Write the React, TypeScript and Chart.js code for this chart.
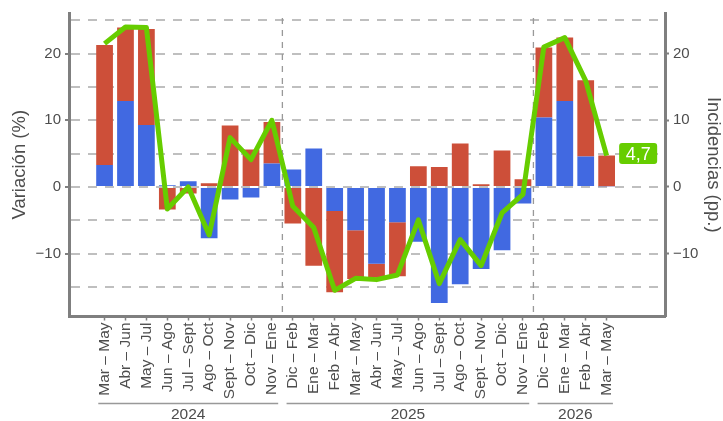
import React, { useEffect, useRef } from 'react';
import { Chart, registerables } from 'chart.js';

Chart.register(...registerables);

// ---- data ----
const periodLabels: string[] = [
  'Mar – May', 'Abr – Jun', 'May – Jul', 'Jun – Ago', 'Jul – Sept', 'Ago – Oct', 'Sept – Nov', 'Oct – Dic', 'Nov – Ene',
  'Dic – Feb', 'Ene – Mar', 'Feb – Abr', 'Mar – May', 'Abr – Jun', 'May – Jul', 'Jun – Ago', 'Jul – Sept', 'Ago – Oct', 'Sept – Nov', 'Oct – Dic', 'Nov – Ene',
  'Dic – Feb', 'Ene – Mar', 'Feb – Abr', 'Mar – May',
];
const blueValues: number[] = [
  3.3, 12.9, 9.3, 0.25, 0.85, -7.7, -1.9, -1.6, 3.5,
  2.6, 5.75, -3.6, -6.5, -11.5, -5.3, -8.2, -17.4, -14.6, -12.3, -9.5, -2.5,
  10.4, 12.9, 4.55, 0.1,
];
const redValues: number[] = [
  18.0, 11.0, 14.4, -3.4, -1.0, 0.55, 9.2, 5.6, 6.25,
  -5.5, -11.8, -12.2, -7.3, -2.1, -8.1, 3.1, 3.0, 6.5, 0.4, 5.45, 1.15,
  10.5, 9.5, 11.45, 4.6,
];
const totalValues: number[] = [
  21.5, 24.0, 23.9, -3.3, 0.0, -7.2, 7.4, 4.1, 10.0,
  -2.9, -6.1, -15.5, -13.7, -13.9, -13.2, -4.95, -14.5, -7.9, -11.8, -3.9, -1.1,
  21.0, 22.4, 15.9, 4.7,
];
const yearLabels: string[] = ['2024', '2025', '2026'];
const yearStart: number[] = [0, 9, 21];
const yearEnd: number[] = [8, 20, 24];
const yGridValues: number[] = [-15, -10, -5, 0, 5, 10, 15, 20, 25];
const yLabelValues: number[] = [-10, 0, 10, 20];

// ---- styles ----
const FONT = "'Liberation Sans', Arial, sans-serif";
const TEXT = '#4D4D4D';
const AXIS = '#7F7F7F';
const GRID = '#BFBFBF';
const BLUE = '#4169E1';
const RED = '#CD4F39';
const GREEN = '#66CD00';
const Y_MIN = -19.43;
const Y_MAX = 26.09;

const fmtY = (v: number) => (v < 0 ? '\u2212' + Math.abs(v) : String(v));

const decorPlugin = {
  id: 'decor',
  beforeDatasetsDraw(chart: any) {
    const { ctx, chartArea, scales } = chart;
    const x = scales.x;
    ctx.save();
    ctx.strokeStyle = '#999999';
    ctx.lineWidth = 1.3;
    ctx.setLineDash([6, 6]);
    for (let i = 1; i < yearStart.length; i++) {
      const px = x.getPixelForValue(yearStart[i] - 0.5);
      ctx.beginPath();
      ctx.moveTo(px, chartArea.top + 5);
      ctx.lineTo(px, chartArea.bottom);
      ctx.stroke();
    }
    ctx.restore();
  },
  afterDraw(chart: any) {
    const { ctx, chartArea, scales } = chart;
    const x = scales.x;
    ctx.save();
    // year groups
    const lineY = chartArea.bottom + 87;
    ctx.strokeStyle = '#999999';
    ctx.lineWidth = 1.5;
    ctx.fillStyle = TEXT;
    ctx.font = `15.5px ${FONT}`;
    ctx.textAlign = 'center';
    ctx.textBaseline = 'middle';
    for (let i = 0; i < yearLabels.length; i++) {
      const x1 = x.getPixelForValue(yearStart[i] - 0.3);
      const x2 = x.getPixelForValue(yearEnd[i] + 0.3);
      ctx.beginPath();
      ctx.moveTo(x1, lineY);
      ctx.lineTo(x2, lineY);
      ctx.stroke();
      ctx.fillText(yearLabels[i], (x1 + x2) / 2, lineY + 11.5);
    }
    // last value label
    const meta = chart.getDatasetMeta(2);
    const pt = meta.data[meta.data.length - 1];
    if (pt) {
      const txt = totalValues[totalValues.length - 1].toFixed(1).replace('.', ',');
      ctx.font = `18px ${FONT}`;
      const w = ctx.measureText(txt).width + 13;
      const h = 21;
      const bx = pt.x + 12.5;
      const by = pt.y - 2 - h / 2;
      ctx.fillStyle = GREEN;
      ctx.beginPath();
      if ((ctx as any).roundRect) (ctx as any).roundRect(bx, by, w, h, 3);
      else ctx.rect(bx, by, w, h);
      ctx.fill();
      ctx.fillStyle = '#FFFFFF';
      ctx.textAlign = 'center';
      ctx.textBaseline = 'middle';
      ctx.fillText(txt, bx + w / 2, by + h / 2 + 1);
    }
    ctx.restore();
  },
};

export default function App() {
  const ref = useRef<HTMLCanvasElement | null>(null);

  useEffect(() => {
    if (!ref.current) return;
    Chart.defaults.font.family = FONT;
    const tickColor = (c: any) => (c.tick && yLabelValues.includes(c.tick.value) ? AXIS : 'rgba(0,0,0,0)');
    const yTicks = {
      color: TEXT,
      padding: 4,
      autoSkip: false,
      font: { size: 15, family: FONT },
      callback: (v: any) => (yLabelValues.includes(Number(v)) ? fmtY(Number(v)) : ''),
    };
    const chart = new Chart(ref.current, {
      type: 'bar',
      data: {
        datasets: [
          {
            type: 'bar',
            label: 'blue',
            data: blueValues.map((v, i) => ({ x: i, y: v })),
            backgroundColor: BLUE,
            borderWidth: 0,
            stack: 'bars',
            order: 1,
            barPercentage: 1,
            categoryPercentage: 0.8,
          },
          {
            type: 'bar',
            label: 'red',
            data: redValues.map((v, i) => ({ x: i, y: v })),
            backgroundColor: RED,
            borderWidth: 0,
            stack: 'bars',
            order: 1,
            barPercentage: 1,
            categoryPercentage: 0.8,
          },
          {
            type: 'line',
            label: 'total',
            data: totalValues.map((v, i) => ({ x: i, y: v })),
            borderColor: GREEN,
            backgroundColor: GREEN,
            borderWidth: 5,
            pointRadius: 0,
            tension: 0,
            borderJoinStyle: 'round',
            stack: 'total',
            order: 0,
          } as any,
        ],
      },
      options: {
        responsive: false,
        animation: false,
        devicePixelRatio: 1,
        layout: { padding: { top: 10, left: 0, right: 0, bottom: 0 } },
        plugins: { legend: { display: false }, tooltip: { enabled: false }, title: { display: false } },
        scales: {
          x: {
            type: 'linear',
            min: -1.7,
            max: 26.79,
            offset: false,
            stacked: true,
            afterBuildTicks: (s: any) => {
              s.ticks = periodLabels.map((_, i) => ({ value: i }));
            },
            afterFit: (s: any) => {
              s.height = 104.5;
            },
            ticks: {
              autoSkip: false,
              maxRotation: 90,
              minRotation: 90,
              padding: 2,
              color: TEXT,
              font: { size: 15.5, family: FONT },
              callback: (v: any) => periodLabels[Math.round(Number(v))] ?? '',
            },
            grid: { offset: false, drawOnChartArea: false, drawTicks: true, tickLength: 4, tickColor: AXIS, tickWidth: 1.5 },
            border: { display: true, color: AXIS, width: 3 },
          },
          y: {
            type: 'linear',
            position: 'left',
            min: Y_MIN,
            max: Y_MAX,
            stacked: true,
            afterBuildTicks: (s: any) => {
              s.ticks = yGridValues.map((v) => ({ value: v }));
            },
            afterFit: (s: any) => {
              s.width = 69;
            },
            ticks: yTicks,
            grid: { color: GRID, lineWidth: 2, drawTicks: true, tickLength: 4, tickColor, tickWidth: 2 },
            border: { display: true, color: AXIS, width: 3, dash: [9, 8] },
            title: {
              display: true,
              text: 'Variación (%)',
              color: TEXT,
              font: { size: 18.5, family: FONT, lineHeight: 1 },
              padding: { top: 10.5, bottom: 0 },
            },
          },
          y2: {
            type: 'linear',
            position: 'right',
            min: Y_MIN,
            max: Y_MAX,
            afterBuildTicks: (s: any) => {
              s.ticks = yGridValues.map((v) => ({ value: v }));
            },
            afterFit: (s: any) => {
              s.width = 58;
            },
            ticks: yTicks,
            grid: { drawOnChartArea: false, drawTicks: true, tickLength: 4, tickColor, tickWidth: 2 },
            border: { display: true, color: AXIS, width: 3 },
            title: {
              display: true,
              text: 'Incidencias (pp.)',
              color: TEXT,
              font: { size: 18.5, family: FONT, lineHeight: 1 },
              padding: { top: 0.5, bottom: 0 },
            },
          },
        },
      } as any,
      plugins: [decorPlugin],
    });
    return () => chart.destroy();
  }, []);

  return (
    <div style={{ position: 'absolute', left: 0, top: 0, width: 723, height: 421 }}>
      <canvas ref={ref} width={723} height={421} style={{ display: 'block', width: 723, height: 421 }} />
    </div>
  );
}
